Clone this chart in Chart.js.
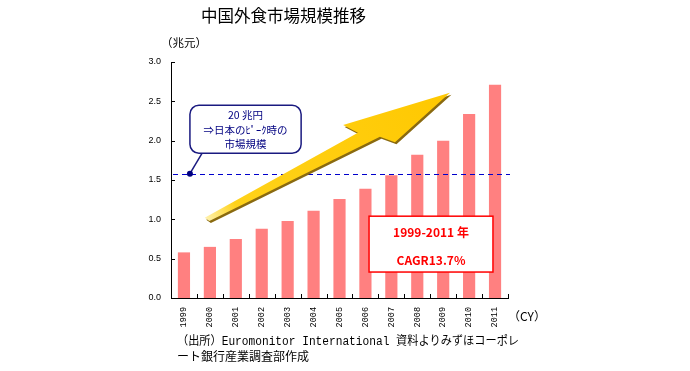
<!DOCTYPE html>
<html>
<head>
<meta charset="utf-8">
<script src="https://cdn.jsdelivr.net/npm/chart.js@4"></script>
<style>
  html, body { margin: 0; padding: 0; background: #fff; }
  canvas { display: block; }
</style>
</head>
<body>
<canvas id="chart" width="690" height="371"></canvas>
<script>
// --- Data ---
const YEARS = ["1999", "2000", "2001", "2002", "2003", "2004", "2005", "2006", "2007", "2008", "2009", "2010", "2011"];
const MARKET_SIZE = [0.58, 0.65, 0.75, 0.88, 0.98, 1.11, 1.26, 1.39, 1.56, 1.82, 2.00, 2.34, 2.71];
const Y_TICKS = [0, 0.5, 1.0, 1.5, 2.0, 2.5, 3.0];
const JAPAN_PEAK = 1.58;

const TITLE = "中国外食市場規模推移";
const UNIT = "（兆元）";
const CALLOUT_LINES = ["20 兆円", "⇒日本のﾋﾟｰｸ時の", "市場規模"];
const CAGR_LINES = ["1999-2011 年", "CAGR13.7%"];
const SOURCE_LINES = ["（出所）Euromonitor International 資料よりみずほコーポレ", "ート銀行産業調査部作成"];

// annotation shapes in (category index, value) space
const ARROW = [[0.80, 1.02], [6.71, 2.10], [6.14, 2.20], [10.26, 2.61], [8.14, 1.98], [7.56, 2.05], [0.98, 0.98]];
const CALLOUT_BOX = { x0: 0.23, x1: 4.52, y0: 1.84, y1: 2.45 };
const CALLOUT_POINTER = [[0.77, 1.88], [0.23, JAPAN_PEAK]];
const CAGR_BOX = { x0: 7.14, x1: 11.92, y0: 0.33, y1: 1.04 };

const JP = "'Noto Sans CJK JP', sans-serif";

function roundRect(ctx, x, y, w, h, r) {
  ctx.beginPath();
  ctx.moveTo(x + r, y);
  ctx.arcTo(x + w, y, x + w, y + h, r);
  ctx.arcTo(x + w, y + h, x, y + h, r);
  ctx.arcTo(x, y + h, x, y, r);
  ctx.arcTo(x, y, x + w, y, r);
  ctx.closePath();
}

const decorPlugin = {
  id: "decor",
  afterDatasetsDraw(chart) {
    const ctx = chart.ctx;
    const xs = chart.scales.x, ys = chart.scales.y;
    const area = chart.chartArea;
    const px = i => xs.getPixelForValue(i);
    const py = v => ys.getPixelForValue(v);

    ctx.save();
    // inner tick marks
    ctx.strokeStyle = "#000";
    ctx.lineWidth = 1;
    ctx.beginPath();
    Y_TICKS.forEach(v => {
      const y = Math.round(py(v)) + 0.5;
      ctx.moveTo(area.left, y); ctx.lineTo(area.left + 4, y);
    });
    for (let i = 0; i <= YEARS.length; i++) {
      const x = Math.round(px(i - 0.5)) + 0.5;
      ctx.moveTo(x, area.bottom); ctx.lineTo(x, area.bottom - 4);
    }
    ctx.stroke();

    // Japan peak dashed line
    ctx.strokeStyle = "#0000cc";
    ctx.setLineDash([5, 4]);
    ctx.beginPath();
    const yp = Math.round(py(JAPAN_PEAK)) + 0.5;
    ctx.moveTo(area.left + 2, yp); ctx.lineTo(area.right + 2, yp);
    ctx.stroke();
    ctx.setLineDash([]);

    // arrow
    const pts = ARROW.map(p => [px(p[0]), py(p[1])]);
    ctx.fillStyle = "#8a6a10";
    ctx.beginPath();
    pts.forEach((p, k) => k ? ctx.lineTo(p[0] + 1.5, p[1] + 2) : ctx.moveTo(p[0] + 1.5, p[1] + 2));
    ctx.closePath();
    ctx.fill();
    const g = ctx.createLinearGradient(pts[0][0], pts[0][1], pts[3][0], pts[3][1]);
    g.addColorStop(0, "#fff2b0");
    g.addColorStop(0.12, "#ffd21a");
    g.addColorStop(1, "#ffc800");
    ctx.fillStyle = g;
    ctx.beginPath();
    pts.forEach((p, k) => k ? ctx.lineTo(p[0], p[1]) : ctx.moveTo(p[0], p[1]));
    ctx.closePath();
    ctx.fill();

    // callout
    ctx.strokeStyle = "#1a1a80";
    ctx.lineWidth = 1.5;
    ctx.beginPath();
    ctx.moveTo(px(CALLOUT_POINTER[0][0]), py(CALLOUT_POINTER[0][1]));
    ctx.lineTo(px(CALLOUT_POINTER[1][0]), py(CALLOUT_POINTER[1][1]));
    ctx.stroke();
    ctx.fillStyle = "#000080";
    ctx.beginPath();
    ctx.arc(px(CALLOUT_POINTER[1][0]), py(CALLOUT_POINTER[1][1]), 3, 0, Math.PI * 2);
    ctx.fill();
    const bx = px(CALLOUT_BOX.x0), by = py(CALLOUT_BOX.y1);
    const bw = px(CALLOUT_BOX.x1) - bx, bh = py(CALLOUT_BOX.y0) - by;
    roundRect(ctx, bx, by, bw, bh, 9);
    ctx.fillStyle = "#fff";
    ctx.fill();
    ctx.stroke();
    ctx.fillStyle = "#000080";
    ctx.font = "10.5px " + JP;
    ctx.textAlign = "center";
    ctx.textBaseline = "middle";
    CALLOUT_LINES.forEach((t, k) => ctx.fillText(t, bx + bw / 2, by + 10 + k * 14.5));

    // CAGR box
    const cx = px(CAGR_BOX.x0), cy = py(CAGR_BOX.y1);
    const cw = px(CAGR_BOX.x1) - cx, ch = py(CAGR_BOX.y0) - cy;
    ctx.fillStyle = "#fff";
    ctx.fillRect(cx, cy, cw, ch);
    ctx.strokeStyle = "#ff0000";
    ctx.lineWidth = 1.5;
    ctx.strokeRect(cx, cy, cw, ch);
    ctx.fillStyle = "#ff0000";
    ctx.font = "bold 12px " + JP;
    ctx.fillText(CAGR_LINES[0], cx + cw / 2, cy + 16);
    ctx.fillText(CAGR_LINES[1], cx + cw / 2, cy + 44);

    // texts around the chart
    ctx.fillStyle = "#000";
    ctx.textAlign = "left";
    ctx.font = "16.5px " + JP;
    ctx.fillText(TITLE, 201, 16);
    ctx.font = "11.5px " + JP;
    ctx.fillText(UNIT, 161, 43);
    ctx.font = "12px " + JP;
    ctx.fillText("（CY）", 508, 316);
    ctx.font = "12px 'Liberation Mono', " + JP;
    ctx.fillText(SOURCE_LINES[0], 177, 342, 342);
    ctx.fillText(SOURCE_LINES[1], 177, 358);
    ctx.restore();
  }
};

new Chart(document.getElementById("chart"), {
  type: "bar",
  data: {
    labels: YEARS,
    datasets: [{
      data: MARKET_SIZE,
      backgroundColor: "#ff8080",
      borderWidth: 0,
      barPercentage: 0.47,
      categoryPercentage: 1.0
    }]
  },
  options: {
    responsive: false,
    animation: false,
    layout: { padding: { top: 62, right: 182, left: 0, bottom: 0 } },
    plugins: { legend: { display: false }, tooltip: { enabled: false } },
    scales: {
      x: {
        grid: { display: false, drawTicks: false },
        border: { display: true, color: "#000", width: 1 },
        ticks: {
          autoSkip: false, minRotation: 90, maxRotation: 90, padding: 9,
          color: "#000", font: { family: "'Liberation Mono', monospace", size: 8.5 }
        },
        afterFit: s => { s.height = 73; }
      },
      y: {
        min: 0, max: 3,
        grid: { display: false, drawTicks: false },
        border: { display: true, color: "#000", width: 1 },
        ticks: {
          stepSize: 0.5, padding: 10, color: "#000",
          font: { family: "'Liberation Sans', Arial, sans-serif", size: 9 },
          callback: v => Number(v).toFixed(1)
        },
        afterFit: s => { s.width = 171; }
      }
    }
  },
  plugins: [decorPlugin]
});
</script>
</body>
</html>
